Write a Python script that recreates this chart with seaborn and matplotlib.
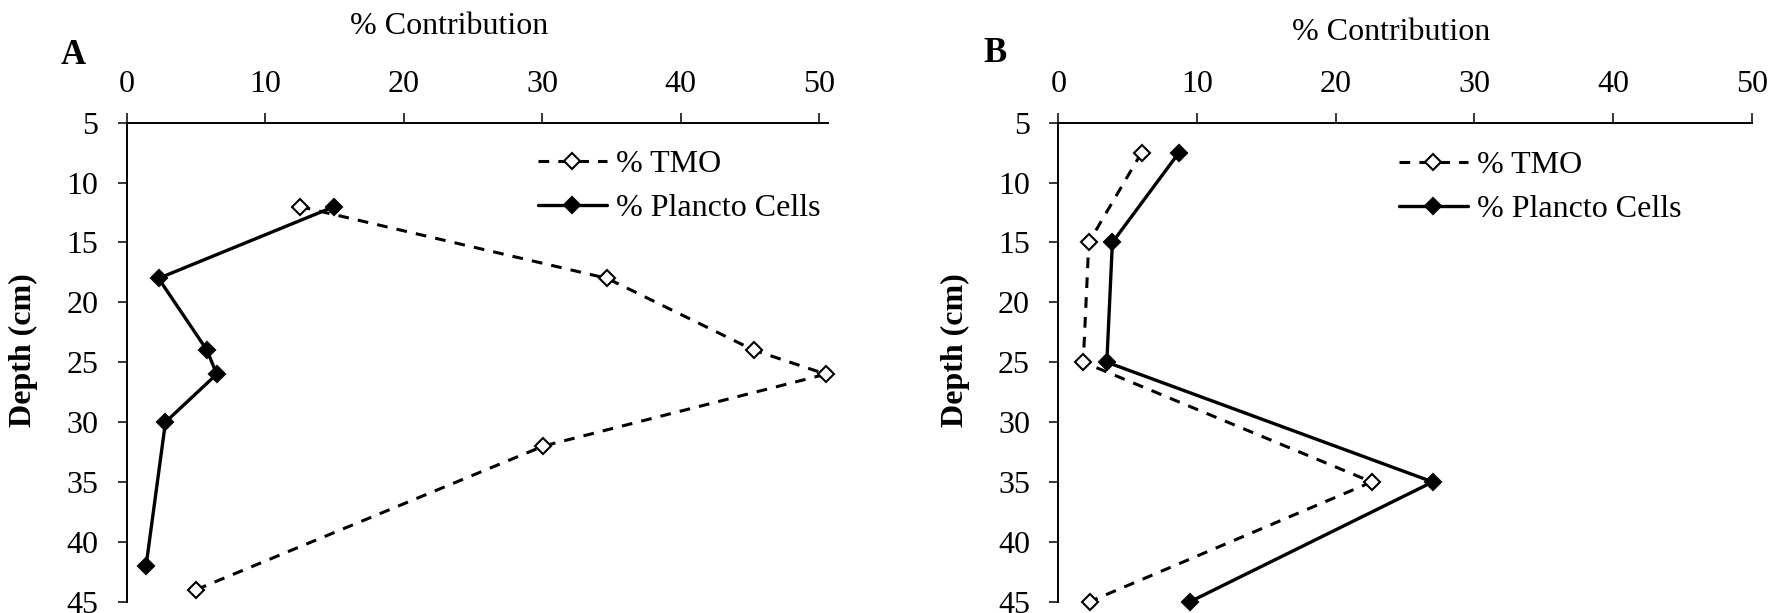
import matplotlib
matplotlib.use("Agg")
import matplotlib.pyplot as plt
import seaborn as sns
import pandas as pd

# ---- data ----
depth_a_tmo = [12, 18, 24, 26, 32, 44]
tmo_a = [12.5, 34.7, 45.3, 50.5, 30.1, 5.0]
depth_a_pl = [12, 18, 24, 26, 30, 42]
plancto_a = [15.0, 2.3, 5.8, 6.5, 2.8, 1.4]

depth_b = [7.5, 15, 25, 35, 45]
tmo_b = [6.0, 2.2, 1.8, 22.6, 2.25]
plancto_b = [8.7, 3.9, 3.5, 27.0, 9.5]

x_ticks = [0, 10, 20, 30, 40, 50]
y_ticks = [5, 10, 15, 20, 25, 30, 35, 40, 45]
series_labels = ["% TMO", "% Plancto Cells"]
panel_labels = ["A", "B"]

sns.set_theme(style="white")
plt.rcParams["font.family"] = ["Liberation Serif", "DejaVu Serif"]

W, H = 1773, 613
fig = plt.figure(figsize=(W / 100, H / 100), dpi=100)

FS = 23

def fx(px):
    return px / W

def fy(py):
    return 1 - py / H

panels = [
    dict(rect=[fx(126.7), fy(601.7), fx(828 - 126.7), (601.7 - 122.7) / H], xmax=50.65,
         tmo=(tmo_a, depth_a_tmo), pl=(plancto_a, depth_a_pl),
         leg=(538, 150), xlab=(449.5, 27), title=(73, 55)),
    dict(rect=[fx(1058.3), fy(601.7), fx(1751.7 - 1058.3), (601.7 - 122.7) / H], xmax=50,
         tmo=(tmo_b, depth_b), pl=(plancto_b, depth_b),
         leg=(1399, 151), xlab=(1391, 32), title=(995, 53)),
]

for i, p in enumerate(panels):
    ax = fig.add_axes(p["rect"])
    df_t = pd.DataFrame({"x": p["tmo"][0], "depth": p["tmo"][1]})
    df_p = pd.DataFrame({"x": p["pl"][0], "depth": p["pl"][1]})
    sns.lineplot(data=df_t, x="x", y="depth", ax=ax, orient="y", sort=False,
                 estimator=None, color="black", linestyle=(0, (3.5, 3)), linewidth=2.2,
                 marker="D", markersize=8, markerfacecolor="white",
                 markeredgecolor="black", markeredgewidth=1.5,
                 label=series_labels[0], clip_on=False)
    sns.lineplot(data=df_p, x="x", y="depth", ax=ax, orient="y", sort=False,
                 estimator=None, color="black", linestyle="-", linewidth=2.4,
                 marker="D", markersize=8, markerfacecolor="black",
                 markeredgecolor="black", markeredgewidth=1.5,
                 label=series_labels[1], clip_on=False)

    ax.set_xlim(0, p["xmax"])
    ax.set_ylim(45, 5)
    ax.set_xticks(x_ticks)
    ax.set_yticks(y_ticks)
    ax.xaxis.tick_top()
    ax.xaxis.set_label_position("top")

    for s in ["bottom", "right"]:
        ax.spines[s].set_visible(False)
    for s in ["top", "left"]:
        ax.spines[s].set_color("black")
        ax.spines[s].set_linewidth(1.4)

    ax.tick_params(axis="x", which="major", top=True, bottom=False, direction="out",
                   length=7, width=1.1, color="black", labelsize=FS, pad=10,
                   labeltop=True, labelbottom=False)
    ax.tick_params(axis="y", which="major", left=True, direction="out",
                   length=6.3, width=1.1, color="black", labelsize=FS, pad=14)
    for lab in ax.get_xticklabels() + ax.get_yticklabels():
        lab.set_color("black")

    ax.set_xlabel("% Contribution", fontsize=FS, color="black", va="center")
    ax.xaxis.set_label_coords(fx(p["xlab"][0]), fy(p["xlab"][1]), transform=fig.transFigure)
    ax.set_ylabel("Depth (cm)", fontsize=FS, fontweight="bold", color="black", va="center")
    ax.yaxis.set_label_coords(fx(23.5 + (0 if i == 0 else 931.6)), fy(350),
                              transform=fig.transFigure)

    ax.grid(False)
    ax.set_facecolor("white")

    leg = ax.legend(loc="upper left", bbox_to_anchor=(fx(p["leg"][0]), fy(p["leg"][1])),
                    bbox_transform=fig.transFigure, frameon=False, fontsize=FS,
                    borderpad=0, borderaxespad=0, handlelength=2.15,
                    handletextpad=0.28, labelspacing=0.45)
    for t in leg.get_texts():
        t.set_color("black")

    fig.text(fx(p["title"][0]), fy(p["title"][1]), panel_labels[i], fontsize=25,
             fontweight="bold", ha="center", va="center", color="black")

fig.savefig("out.png", dpi=100, facecolor="white")
